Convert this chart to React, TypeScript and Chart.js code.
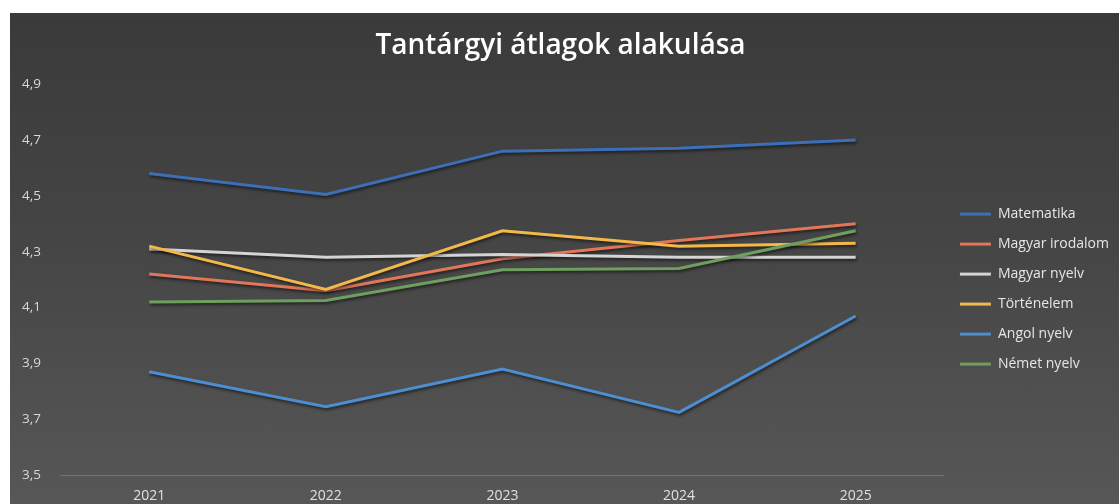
import React, { useEffect, useRef } from "react";
import { Chart, registerables } from "chart.js";

Chart.register(...registerables);

const chartTitle = "Tantárgyi átlagok alakulása";
const years = ["2021", "2022", "2023", "2024", "2025"];
const yTicks = [3.5, 3.7, 3.9, 4.1, 4.3, 4.5, 4.7, 4.9];

const seriesNames = [
  "Matematika",
  "Magyar irodalom",
  "Magyar nyelv",
  "Történelem",
  "Angol nyelv",
  "Német nyelv",
];
const matematika = [4.58, 4.505, 4.66, 4.67, 4.7];
const magyarIrodalom = [4.22, 4.16, 4.275, 4.34, 4.4];
const magyarNyelv = [4.31, 4.28, 4.29, 4.28, 4.28];
const tortenelem = [4.32, 4.165, 4.375, 4.32, 4.33];
const angolNyelv = [3.87, 3.745, 3.88, 3.725, 4.07];
const nemetNyelv = [4.12, 4.125, 4.235, 4.24, 4.375];

const seriesValues = [matematika, magyarIrodalom, magyarNyelv, tortenelem, angolNyelv, nemetNyelv];
const seriesColors = ["#3c6fb8", "#e2765a", "#d4d4d4", "#f2b84a", "#4d8ed0", "#6f9f5e"];

const shadowPlugin = {
  id: "lineShadow",
  beforeDatasetsDraw(chart: any) {
    const ctx = chart.ctx;
    ctx.save();
    ctx.shadowColor = "rgba(0,0,0,0.55)";
    ctx.shadowBlur = 3;
    ctx.shadowOffsetX = 1;
    ctx.shadowOffsetY = 2;
  },
  afterDatasetsDraw(chart: any) {
    chart.ctx.restore();
  },
};

export default function App() {
  const ref = useRef<HTMLCanvasElement | null>(null);

  useEffect(() => {
    if (!ref.current) return;
    const n = seriesNames.length;
    const chart = new Chart(ref.current, {
      type: "line",
      data: {
        labels: years,
        datasets: seriesNames.map((name, i) => ({
          label: name,
          data: seriesValues[i],
          borderColor: seriesColors[i],
          backgroundColor: seriesColors[i],
          borderWidth: 3,
          pointRadius: 0,
          pointHoverRadius: 0,
          tension: 0,
          order: n - i,
        })),
      },
      options: {
        animation: false,
        responsive: true,
        maintainAspectRatio: false,
        layout: { padding: { left: -8, right: 0, top: 0, bottom: 2 } },
        plugins: {
          title: {
            display: true,
            text: chartTitle,
            color: "#ffffff",
            font: { family: "'Open Sans', sans-serif", size: 28, weight: "600" },
            padding: { top: 16, bottom: 21.5 },
          },
          legend: {
            position: "right",
            align: "center",
            title: { display: true, text: " ", font: { size: 1 }, padding: 24 },
            labels: {
              color: "#e6e6e6",
              font: { family: "'Open Sans', sans-serif", size: 14 },
              usePointStyle: true,
              pointStyle: "line",
              pointStyleWidth: 31,
              padding: 16,
              sort: (a: any, b: any) => a.datasetIndex - b.datasetIndex,
            },
          },
          tooltip: { enabled: false },
        },
        scales: {
          x: {
            offset: true,
            grid: { display: false, drawTicks: false },
            border: { display: true, color: "rgba(255,255,255,0.18)", width: 1 },
            ticks: {
              color: "#e0e0e0",
              font: { family: "'Open Sans', sans-serif", size: 14 },
              padding: 12,
            },
          },
          y: {
            min: 3.5,
            max: 4.9,
            afterBuildTicks: (scale: any) => {
              scale.ticks = yTicks.map((v) => ({ value: v }));
            },
            grid: { display: false, drawTicks: false },
            border: { display: false },
            ticks: {
              color: "#d8d8d8",
              font: { family: "'Open Sans', sans-serif", size: 13.5 },
              padding: 20,
              callback: (v: any) => Number(v).toFixed(1).replace(".", ","),
            },
          },
        },
      },
      plugins: [shadowPlugin],
    });
    return () => chart.destroy();
  }, []);

  return (
    <div
      style={{
        position: "fixed",
        left: 10,
        top: 13,
        right: 0,
        bottom: -14,
        background: "linear-gradient(180deg, #3a3a3a 0%, #454545 45%, #585858 100%)",
      }}
    >
      <canvas ref={ref} />
    </div>
  );
}
